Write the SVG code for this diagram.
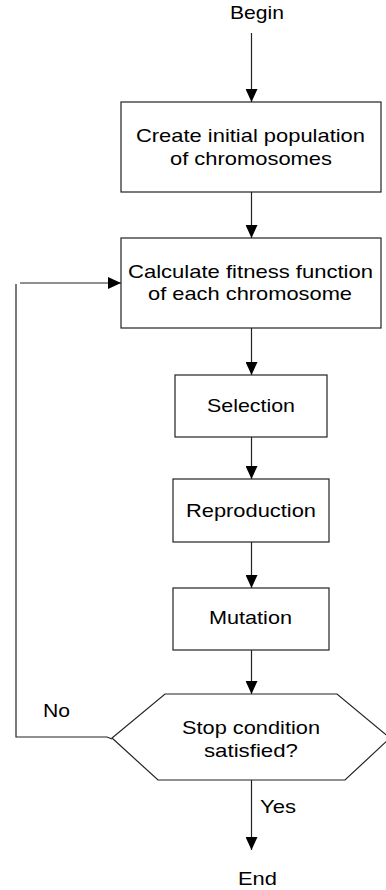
<svg xmlns="http://www.w3.org/2000/svg" width="386" height="890" viewBox="0 0 386 890">
<style>
  .box { fill: #ffffff; stroke: #222222; stroke-width: 1.2; }
  .ln { fill: none; stroke: #222222; stroke-width: 1.2; }
  .t { font-family: "Liberation Sans", Arial, sans-serif; font-size: 19px; fill: #000000; }
</style>
<defs>
  <marker id="arr" markerUnits="userSpaceOnUse" markerWidth="13" markerHeight="12" refX="13" refY="6" orient="auto">
    <path d="M0,0 L13,6 L0,12 z" fill="#000000"/>
  </marker>
</defs>
<rect width="386" height="890" fill="#ffffff"/>
<g id="connectors">
  <line class="ln" x1="251.5" y1="33" x2="251.5" y2="102" marker-end="url(#arr)"/>
  <line class="ln" x1="251.5" y1="192" x2="251.5" y2="238" marker-end="url(#arr)"/>
  <line class="ln" x1="251.5" y1="328" x2="251.5" y2="375" marker-end="url(#arr)"/>
  <line class="ln" x1="251.5" y1="437" x2="251.5" y2="479" marker-end="url(#arr)"/>
  <line class="ln" x1="251.5" y1="542" x2="251.5" y2="588" marker-end="url(#arr)"/>
  <line class="ln" x1="251.5" y1="650" x2="251.5" y2="694" marker-end="url(#arr)"/>
  <line class="ln" x1="251.5" y1="780" x2="251.5" y2="850" marker-end="url(#arr)"/>
  <polyline class="ln" points="112,739 107,737 16,737 16,284"/>
  <line class="ln" x1="20" y1="283" x2="121" y2="283" marker-end="url(#arr)"/>
  <text class="t" x="43" y="717" textLength="27" lengthAdjust="spacingAndGlyphs">No</text>
  <text class="t" x="260" y="813" textLength="36" lengthAdjust="spacingAndGlyphs">Yes</text>
</g>
<g id="begin">
  <text class="t" x="230" y="19" textLength="54" lengthAdjust="spacingAndGlyphs">Begin</text>
</g>
<g id="create">
  <rect class="box" x="121" y="102" width="260" height="90"/>
  <text class="t" x="136" y="142" textLength="229" lengthAdjust="spacingAndGlyphs">Create initial population</text>
  <text class="t" x="170" y="165" textLength="162" lengthAdjust="spacingAndGlyphs">of chromosomes</text>
</g>
<g id="fitness">
  <rect class="box" x="121" y="238" width="260" height="90"/>
  <text class="t" x="128" y="278" textLength="245" lengthAdjust="spacingAndGlyphs">Calculate fitness function</text>
  <text class="t" x="148" y="300" textLength="204" lengthAdjust="spacingAndGlyphs">of each chromosome</text>
</g>
<g id="selection">
  <rect class="box" x="175" y="375" width="152" height="62"/>
  <text class="t" x="207" y="412" textLength="88" lengthAdjust="spacingAndGlyphs">Selection</text>
</g>
<g id="reproduction">
  <rect class="box" x="173" y="479" width="156" height="63"/>
  <text class="t" x="186" y="517" textLength="130" lengthAdjust="spacingAndGlyphs">Reproduction</text>
</g>
<g id="mutation">
  <rect class="box" x="173" y="588" width="156" height="62"/>
  <text class="t" x="209" y="624" textLength="83" lengthAdjust="spacingAndGlyphs">Mutation</text>
</g>
<g id="stop">
  <polygon class="box" points="165,694 337,694 390,738 345,780 158,780 112,738"/>
  <text class="t" x="182" y="734" textLength="138" lengthAdjust="spacingAndGlyphs">Stop condition</text>
  <text class="t" x="204" y="757" textLength="94" lengthAdjust="spacingAndGlyphs">satisfied?</text>
</g>
<g id="end">
  <text class="t" x="238" y="885" textLength="39" lengthAdjust="spacingAndGlyphs">End</text>
</g>
</svg>
